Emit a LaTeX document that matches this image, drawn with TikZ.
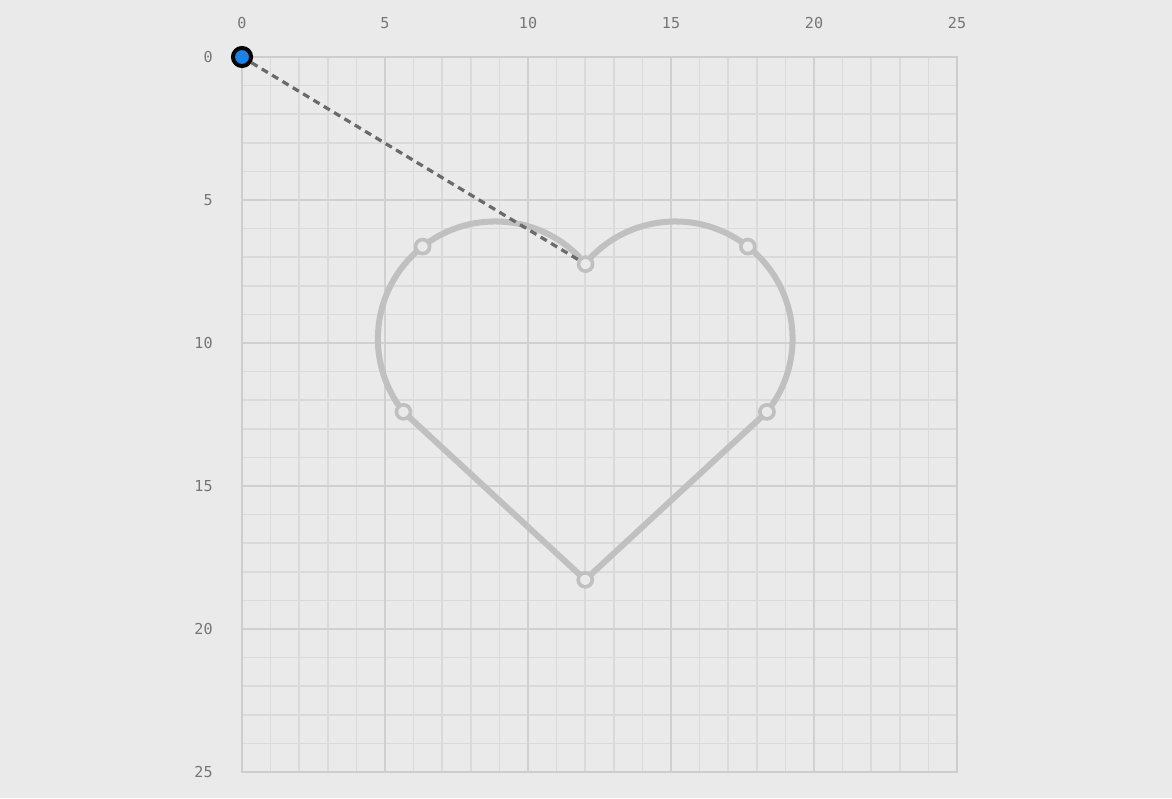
\documentclass[tikz,border=0pt]{standalone}
\usepackage{fontspec}
\setmonofont{DejaVu Sans Mono}
\usepackage{tikz}
\usetikzlibrary{calc}
\definecolor{hfond}{HTML}{EAEAEA}
\definecolor{hmineur}{HTML}{DADADA}
\definecolor{hmajeur}{HTML}{D0D0D0}
\definecolor{hbord}{HTML}{CDCDCD}
\definecolor{hlabel}{HTML}{767676}
\definecolor{hcourbe}{HTML}{C0C0C0}
\definecolor{hpointille}{HTML}{6A6A6A}
\definecolor{hbleu}{HTML}{1A82E8}

\begin{document}
\begin{tikzpicture}[x=0.5cm,y=-0.5cm,font=\ttfamily\fontsize{7.5}{9}\selectfont,
  knot/.style={circle,draw=hcourbe,fill=hfond,line width=1.8pt,minimum size=7pt,inner sep=0pt},
  origine/.style={circle,draw=black,fill=hbleu,line width=2pt,minimum size=9pt,inner sep=0pt}]
  \useasboundingbox[fill=hfond] (-8.462,-1.993) rectangle (32.517,25.909);
  % grille
  \foreach \i in {1,...,24} {
    \draw[hmineur,line width=0.8pt] (\i,0) -- (\i,25);
    \draw[hmineur,line width=0.8pt] (0,\i) -- (25,\i);
  }
  \foreach \i in {5,10,15,20} {
    \draw[hmajeur,line width=1pt] (\i,0) -- (\i,25);
    \draw[hmajeur,line width=1pt] (0,\i) -- (25,\i);
  }
  \draw[hbord,line width=1.1pt] (0,0) rectangle (25,25);
  % graduations
  \foreach \v in {0,5,...,25} {
    \node[hlabel] (hx\v) at (\v,-1.19) {\v};
    \node[hlabel,anchor=east] (hy\v) at (-0.78,\v) {\v};
  }
  % coeur : deux arcs et deux droites
  \coordinate (cg) at (8.85,9.85);
  \coordinate (cd) at (15.15,9.85);
  \coordinate (ptop) at ($(cg)+(-39.5:4.1)$);
  \coordinate (pul) at ($(cg)+(-128.2:4.1)$);
  \coordinate (pll) at ($(cg)+(141.4:4.1)$);
  \coordinate (pbas) at (12,18.28);
  \coordinate (plr) at ($(cd)+(38.6:4.1)$);
  \coordinate (pur) at ($(cd)+(-51.8:4.1)$);
  \draw[hcourbe,line width=3pt,line join=round]
    (ptop) arc[start angle=-39.5,end angle=-218.6,radius=4.1]
    -- (pbas) -- (plr) arc[start angle=38.6,end angle=-140.5,radius=4.1] -- cycle;
  \foreach \p in {top,ul,ll,bas,lr,ur}
    \node[knot] (k\p) at (p\p) {};
  % point de depart
  \node[origine] (orig) at (0,0) {};
  \draw[hpointille,line width=1.6pt,dash pattern=on 3.5pt off 2.5pt] (orig) -- (ktop);
\end{tikzpicture}
\end{document}
